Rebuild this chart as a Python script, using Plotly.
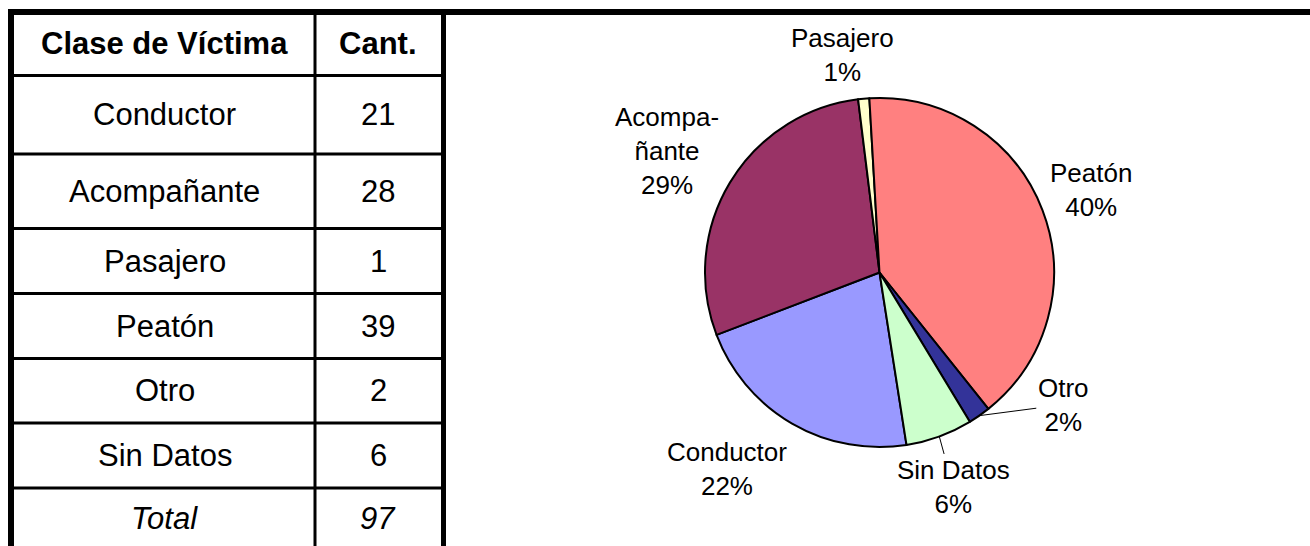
import math
import plotly.graph_objects as go

# ---------------- data ----------------
header = ["Clase de Víctima", "Cant."]
categories = ["Conductor", "Acompañante", "Pasajero", "Peatón", "Otro", "Sin Datos"]
counts = [21, 28, 1, 39, 2, 6]
total_label = "Total"
pie_labels = ["Conductor", "Acompa-<br>ñante", "Pasajero", "Peatón", "Otro", "Sin Datos"]
slice_colors = ["#9999FF", "#993366", "#FFFFCC", "#FF8080", "#333399", "#CCFFCC"]

# ---------------- layout constants ----------------
W, H = 1310, 546
FONT = "Liberation Sans, Arial, sans-serif"


def px(x):
    return x / W


def py(y):
    return 1 - y / H


# table geometry (pixels)
table_left, table_right, col_split = 11, 443.5, 315
row_edges = [12, 75.5, 154, 228.5, 293.5, 358.5, 423, 488, 548]
col_centers = [(14 + col_split) / 2, (col_split + 441) / 2]

# pie geometry (pixels)
cx, cy, r = 879.5, 272.5, 174.5
rotation = 171.1
label_offsets = [(-65, 45), (-63, -32), (-21, -44), (49, -20), (84, -11), (14, 51)]
leader = [False, False, False, False, True, True]

total = sum(counts)

fig = go.Figure()

fig.add_trace(go.Pie(
    values=counts,
    labels=categories,
    sort=False,
    direction="clockwise",
    rotation=rotation,
    marker=dict(colors=slice_colors, line=dict(color="black", width=2)),
    textinfo="none",
    hoverinfo="label+value+percent",
    showlegend=False,
    domain=dict(x=[px(cx - r), px(cx + r)], y=[py(cy + r), py(cy - r)]),
))

shapes = []
line_black = "black"
# outer borders
shapes.append(dict(type="line", xref="paper", yref="paper",
                   x0=px(8), x1=px(W), y0=py(12), y1=py(12),
                   line=dict(color=line_black, width=6)))
shapes.append(dict(type="line", xref="paper", yref="paper",
                   x0=px(table_left), x1=px(table_left), y0=py(9), y1=py(H),
                   line=dict(color=line_black, width=6)))
shapes.append(dict(type="line", xref="paper", yref="paper",
                   x0=px(table_right), x1=px(table_right), y0=py(9), y1=py(H),
                   line=dict(color=line_black, width=5)))
# column split
shapes.append(dict(type="line", xref="paper", yref="paper",
                   x0=px(col_split), x1=px(col_split), y0=py(15), y1=py(H),
                   line=dict(color=line_black, width=3)))
# row lines
for y in row_edges[1:-1]:
    shapes.append(dict(type="line", xref="paper", yref="paper",
                       x0=px(14), x1=px(441), y0=py(y), y1=py(y),
                       line=dict(color=line_black, width=3)))

annotations = []
rows = [[f"<b>{header[0]}</b>", f"<b>{header[1]}</b>"]]
rows += [[c, str(v)] for c, v in zip(categories, counts)]
rows += [[f"<i>{total_label}</i>", f"<i>{total}</i>"]]
for i, row in enumerate(rows):
    yc = (row_edges[i] + row_edges[i + 1]) / 2
    for j, txt in enumerate(row):
        annotations.append(dict(
            xref="paper", yref="paper", x=px(col_centers[j]), y=py(yc),
            text=txt, showarrow=False, xanchor="center", yanchor="middle",
            font=dict(family=FONT, size=31, color="black")))

# pie labels from data-derived slice mid-angles
cum = 0
for lab, v, (dx, dy), lead in zip(pie_labels, counts, label_offsets, leader):
    mid = math.radians(rotation + 360 * (cum + v / 2) / total)
    cum += v
    ex = cx + r * math.sin(mid)
    ey = cy - r * math.cos(mid)
    pct = round(100 * v / total)
    text = f"{lab}<br>{pct}%"
    if lead:
        annotations.append(dict(
            xref="paper", yref="paper", x=px(ex), y=py(ey),
            ax=dx, ay=dy, text=text, showarrow=True, arrowhead=0,
            arrowwidth=1, arrowcolor="black", standoff=0,
            font=dict(family=FONT, size=26, color="black")))
    else:
        annotations.append(dict(
            xref="paper", yref="paper", x=px(ex), y=py(ey),
            xshift=dx, yshift=-dy, text=text, showarrow=False,
            xanchor="center", yanchor="middle",
            font=dict(family=FONT, size=26, color="black")))

fig.update_layout(
    width=W, height=H,
    margin=dict(l=0, r=0, t=0, b=0),
    paper_bgcolor="white", plot_bgcolor="white",
    font=dict(family=FONT, color="black"),
    shapes=shapes,
    annotations=annotations,
    showlegend=False,
)

fig.write_html(
    "out.html",
    config={"displayModeBar": False},
    post_script="document.body.style.margin='0px';"
                "document.documentElement.style.overflow='hidden';",
)
